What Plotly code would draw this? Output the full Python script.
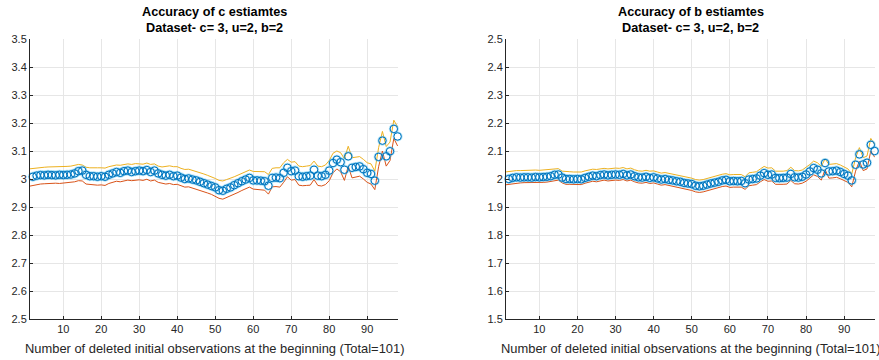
import plotly.graph_objects as go

# ---------------- data ----------------
x_obs = list(range(1, 99))

c_est = [3.005, 3.008, 3.012, 3.014, 3.013, 3.015, 3.014, 3.013, 3.015, 3.014,
         3.015, 3.016, 3.020, 3.028, 3.030, 3.015, 3.010, 3.010, 3.008, 3.010,
         3.008, 3.015, 3.020, 3.025, 3.022, 3.028, 3.030, 3.025, 3.028, 3.030,
         3.028, 3.032, 3.025, 3.030, 3.020, 3.015, 3.012, 3.015, 3.010, 3.012,
         3.005, 3.000, 3.002, 2.998, 2.995, 2.990, 2.985, 2.980, 2.975, 2.970,
         2.960, 2.958, 2.965, 2.970, 2.978, 2.985, 2.992, 2.998, 3.004, 2.995,
         2.995, 2.994, 2.992, 2.976, 3.004, 3.005, 3.003, 3.022, 3.040, 3.028,
         3.030, 3.010, 3.008, 3.010, 3.012, 3.033, 3.012, 3.010, 3.015, 3.030,
         3.057, 3.069, 3.060, 3.033, 3.081, 3.040, 3.043, 3.045, 3.035, 3.022,
         3.018, 2.994, 3.079, 3.137, 3.081, 3.099, 3.179, 3.152]

c_upper = [3.036, 3.038, 3.040, 3.042, 3.042, 3.043, 3.043, 3.044, 3.043, 3.044,
           3.045, 3.046, 3.048, 3.052, 3.050, 3.042, 3.040, 3.041, 3.040, 3.040,
           3.039, 3.044, 3.048, 3.050, 3.049, 3.052, 3.054, 3.052, 3.055, 3.054,
           3.053, 3.057, 3.052, 3.054, 3.046, 3.043, 3.045, 3.047, 3.044, 3.044,
           3.038, 3.034, 3.035, 3.031, 3.028, 3.024, 3.018, 3.013, 3.008, 3.002,
           2.995, 2.993, 2.998, 3.002, 3.008, 3.014, 3.020, 3.026, 3.032, 3.027,
           3.027, 3.027, 3.026, 3.016, 3.038, 3.040, 3.040, 3.058, 3.070, 3.060,
           3.062, 3.046, 3.044, 3.046, 3.048, 3.064, 3.046, 3.044, 3.050, 3.066,
           3.092, 3.100, 3.094, 3.072, 3.117, 3.076, 3.078, 3.080, 3.070, 3.058,
           3.054, 3.028, 3.112, 3.170, 3.116, 3.132, 3.210, 3.186]

c_lower = [2.974, 2.977, 2.980, 2.982, 2.983, 2.984, 2.984, 2.985, 2.984, 2.985,
           2.986, 2.987, 2.990, 2.994, 2.993, 2.982, 2.980, 2.980, 2.978, 2.979,
           2.977, 2.984, 2.988, 2.992, 2.990, 2.994, 2.996, 2.994, 2.996, 2.997,
           2.995, 2.999, 2.993, 2.996, 2.988, 2.984, 2.982, 2.984, 2.980, 2.981,
           2.976, 2.971, 2.972, 2.968, 2.964, 2.960, 2.955, 2.950, 2.945, 2.939,
           2.931, 2.928, 2.934, 2.938, 2.945, 2.952, 2.959, 2.965, 2.971, 2.964,
           2.963, 2.962, 2.960, 2.946, 2.972, 2.973, 2.971, 2.988, 3.008, 2.996,
           2.998, 2.978, 2.976, 2.977, 2.978, 2.998, 2.977, 2.975, 2.980, 2.994,
           3.022, 3.036, 3.026, 2.995, 3.046, 3.004, 3.008, 3.010, 3.000, 2.988,
           2.982, 2.962, 3.044, 3.100, 3.046, 3.066, 3.145, 3.118]

b_est = [1.998, 2.000, 2.004, 2.006, 2.005, 2.006, 2.006, 2.005, 2.007, 2.006,
         2.007, 2.008, 2.010, 2.015, 2.016, 2.005, 2.000, 2.000, 1.999, 2.000,
         1.999, 2.004, 2.008, 2.012, 2.010, 2.014, 2.016, 2.013, 2.015, 2.016,
         2.015, 2.018, 2.013, 2.016, 2.010, 2.006, 2.005, 2.008, 2.004, 2.006,
         2.002, 1.998, 2.000, 1.997, 1.995, 1.992, 1.990, 1.986, 1.984, 1.982,
         1.976, 1.974, 1.976, 1.980, 1.984, 1.987, 1.990, 1.995, 1.997, 1.992,
         1.993, 1.992, 1.993, 1.985, 1.998, 2.000, 2.002, 2.012, 2.021, 2.015,
         2.016, 2.004, 2.003, 2.004, 2.005, 2.018, 2.006, 2.005, 2.008, 2.016,
         2.027, 2.039, 2.033, 2.020, 2.057, 2.027, 2.028, 2.030, 2.025, 2.018,
         2.012, 1.995, 2.051, 2.088, 2.052, 2.058, 2.122, 2.100]

b_upper = [2.025, 2.027, 2.029, 2.030, 2.030, 2.031, 2.031, 2.031, 2.032, 2.031,
           2.032, 2.033, 2.034, 2.037, 2.037, 2.028, 2.026, 2.026, 2.025, 2.026,
           2.025, 2.029, 2.032, 2.035, 2.034, 2.037, 2.038, 2.036, 2.038, 2.039,
           2.038, 2.041, 2.036, 2.039, 2.033, 2.029, 2.028, 2.031, 2.028, 2.029,
           2.025, 2.021, 2.023, 2.020, 2.018, 2.015, 2.013, 2.009, 2.006, 2.003,
           1.998, 1.996, 1.998, 2.002, 2.006, 2.009, 2.012, 2.017, 2.019, 2.015,
           2.016, 2.015, 2.016, 2.008, 2.022, 2.024, 2.026, 2.036, 2.045, 2.039,
           2.040, 2.028, 2.027, 2.028, 2.030, 2.042, 2.030, 2.029, 2.032, 2.041,
           2.052, 2.064, 2.058, 2.045, 2.072, 2.052, 2.053, 2.055, 2.050, 2.042,
           2.036, 2.018, 2.075, 2.112, 2.076, 2.082, 2.145, 2.124]

b_lower = [1.979, 1.981, 1.984, 1.986, 1.986, 1.987, 1.987, 1.986, 1.988, 1.987,
           1.988, 1.989, 1.991, 1.995, 1.996, 1.986, 1.981, 1.981, 1.980, 1.981,
           1.980, 1.985, 1.989, 1.992, 1.990, 1.994, 1.996, 1.993, 1.995, 1.996,
           1.995, 1.998, 1.993, 1.996, 1.990, 1.986, 1.985, 1.988, 1.984, 1.986,
           1.982, 1.978, 1.980, 1.977, 1.975, 1.972, 1.969, 1.965, 1.962, 1.959,
           1.954, 1.952, 1.954, 1.958, 1.962, 1.965, 1.968, 1.973, 1.975, 1.970,
           1.971, 1.970, 1.971, 1.963, 1.976, 1.978, 1.980, 1.990, 1.998, 1.992,
           1.993, 1.981, 1.980, 1.981, 1.982, 1.995, 1.983, 1.982, 1.985, 1.992,
           2.003, 2.015, 2.009, 1.996, 2.034, 2.003, 2.004, 2.006, 2.001, 1.994,
           1.988, 1.972, 2.028, 2.064, 2.030, 2.036, 2.100, 2.078]

x_ticks = [10, 20, 30, 40, 50, 60, 70, 80, 90]
c_ticks = [2.5, 2.6, 2.7, 2.8, 2.9, 3.0, 3.1, 3.2, 3.3, 3.4, 3.5]
c_tick_text = ["2.5", "2.6", "2.7", "2.8", "2.9", "3", "3.1", "3.2", "3.3", "3.4", "3.5"]
b_ticks = [1.5, 1.6, 1.7, 1.8, 1.9, 2.0, 2.1, 2.2, 2.3, 2.4, 2.5]
b_tick_text = ["1.5", "1.6", "1.7", "1.8", "1.9", "2", "2.1", "2.2", "2.3", "2.4", "2.5"]

titles = [["Accuracy of c estiamtes", "Dataset- c= 3, u=2, b=2"],
          ["Accuracy of b estiamtes", "Dataset- c= 3, u=2, b=2"]]
x_label = "Number of deleted initial observations at the beginning (Total=101)"

# ---------------- style ----------------
BLUE = "#0072BD"
LIGHT = "#4DBEEE"
ORANGE = "#D95319"
YELLOW = "#EDB120"
AX = "#262626"
FONT = "Liberation Sans, Arial, sans-serif"

W, H = 879, 360
ML, MR, MT, MB = 30, 4, 39, 41
PW, PH = W - ML - MR, H - MT - MB

fig = go.Figure()

panels = [
    (c_est, c_upper, c_lower, "x", "y"),
    (b_est, b_upper, b_lower, "x2", "y2"),
]
for est, up, lo, xa, ya in panels:
    fig.add_trace(go.Scatter(x=x_obs, y=up, mode="lines", line=dict(color=YELLOW, width=1),
                             xaxis=xa, yaxis=ya, showlegend=False))
    fig.add_trace(go.Scatter(x=x_obs, y=lo, mode="lines", line=dict(color=ORANGE, width=1),
                             xaxis=xa, yaxis=ya, showlegend=False))
    fig.add_trace(go.Scatter(x=x_obs, y=est, mode="markers",
                             marker=dict(symbol="circle-open", size=8, color=LIGHT,
                                         opacity=0.45, line=dict(width=2.0, color=LIGHT)),
                             xaxis=xa, yaxis=ya, showlegend=False, cliponaxis=False))
    fig.add_trace(go.Scatter(x=x_obs, y=est, mode="markers",
                             marker=dict(symbol="circle-open", size=7.5, color=BLUE,
                                         line=dict(width=1.0, color=BLUE)),
                             xaxis=xa, yaxis=ya, showlegend=False, cliponaxis=False))

xdoms = [[0, (398 - ML) / PW], [(506 - ML) / PW, 1.0]]

common_x = dict(range=[1.25, 98.1], tickvals=x_ticks, showgrid=True, gridcolor="#e6e6e6",
                gridwidth=1, zeroline=False, showline=True, linecolor=AX, linewidth=1,
                ticks="inside", ticklen=3, tickcolor=AX, automargin=False,
                tickfont=dict(family=FONT, size=11, color=AX))
common_y = dict(showgrid=True, gridcolor="#e6e6e6", gridwidth=1, zeroline=False,
                showline=True, linecolor=AX, linewidth=1, ticks="inside", ticklen=3,
                tickcolor=AX, automargin=False, tickfont=dict(family=FONT, size=11, color=AX))

fig.update_layout(
    width=W, height=H, margin=dict(l=ML, r=MR, t=MT, b=MB, autoexpand=False),
    paper_bgcolor="white", plot_bgcolor="white",
    xaxis=dict(domain=xdoms[0], anchor="y", **common_x),
    yaxis=dict(domain=[0, 1], anchor="x", range=[2.5, 3.5], tickvals=c_ticks,
               ticktext=c_tick_text, **common_y),
    xaxis2=dict(domain=xdoms[1], anchor="y2", **common_x),
    yaxis2=dict(domain=[0, 1], anchor="x2", range=[1.5, 2.5], tickvals=b_ticks,
                ticktext=b_tick_text, **common_y),
)

for dom, (t1, t2) in zip(xdoms, titles):
    cx = (dom[0] + dom[1]) / 2
    fig.add_annotation(x=cx, y=1 + (MT - 12) / PH, xref="paper", yref="paper",
                       text="<b>" + t1 + "</b>", showarrow=False,
                       xanchor="center", yanchor="middle",
                       font=dict(family=FONT, size=12.7, color="black"))
    fig.add_annotation(x=cx, y=1 + (MT - 28) / PH, xref="paper", yref="paper",
                       text="<b>" + t2 + "</b>", showarrow=False,
                       xanchor="center", yanchor="middle",
                       font=dict(family=FONT, size=12.7, color="black"))
    fig.add_annotation(x=cx, y=-(348 - MT - PH) / PH, xref="paper", yref="paper",
                       text=x_label, showarrow=False, xanchor="center", yanchor="middle",
                       font=dict(family=FONT, size=12.9, color=AX))

fig.write_html("out.html", config={"displayModeBar": False},
               post_script="document.body.style.margin='0';document.body.style.overflow='hidden';")
